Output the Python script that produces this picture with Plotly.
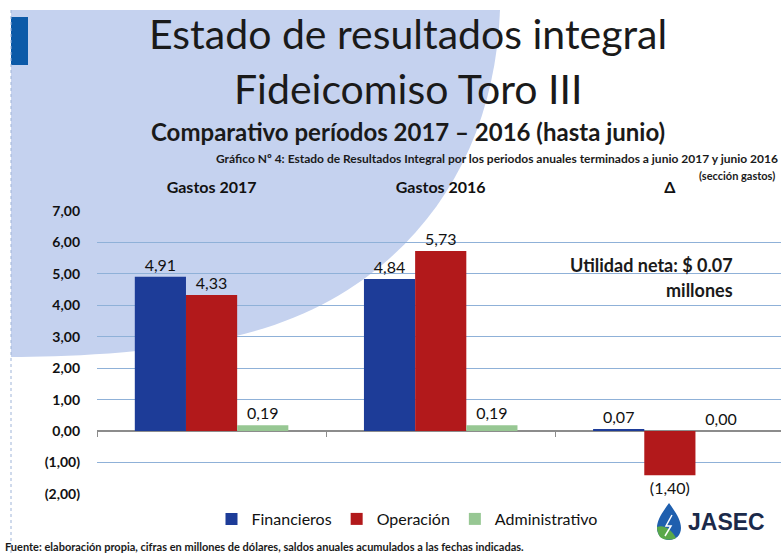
import plotly.graph_objects as go

# datos (millones de dolares)
categorias = ['Gastos 2017', 'Gastos 2016', 'Δ']
financieros = [4.91, 4.84, 0.07]
operacion = [4.33, 5.73, -1.40]
administrativo = [0.19, 0.19, 0.00]
y_ticks = [-2, -1, 0, 1, 2, 3, 4, 5, 6, 7]


def fmt(v):
    s = f"{abs(v):.2f}".replace('.', ',')
    return f"({s})" if v < 0 else s


# geometria de la figura (pixeles)
W, H = 781, 555
L, R, T, B = 97, 0, 211, 61
PW, PH = W - L - R, H - T - B


def px(x):
    return (x - L) / PW


def py(y):
    return (H - B - y) / PH


FONT = 'Lato'
BLUE = '#1d3c98'
RED = '#b2191b'
GREEN = '#97c793'

fig = go.Figure()

series = [('Financieros', financieros, BLUE),
          ('Operación', operacion, RED),
          ('Administrativo', administrativo, GREEN)]
for nombre, vals, color in series:
    fig.add_trace(go.Bar(
        x=categorias, y=vals, name=nombre, marker_color=color,
        marker_line_width=0,
        text=[fmt(v) for v in vals], textposition='outside',
        textfont=dict(family=FONT, size=16, color='#111'),
        cliponaxis=False))

# trazas vacias para los ejes auxiliares
fig.add_trace(go.Scatter(x=[None], y=[None], xaxis='x2', showlegend=False, hoverinfo='skip'))
fig.add_trace(go.Scatter(x=[None], y=[None], xaxis='x3', showlegend=False, hoverinfo='skip'))

# fondo: forma celeste y barra azul
def pth(pts, cmds):
    out = ''
    for c, group in zip(cmds, pts):
        out += c + ' ' + ' '.join(f"{px(x):.4f},{py(y):.4f}" for x, y in group) + ' '
    return out + 'Z'


fondo = pth([[(11, 10)], [(500, 10)], [(494, 175), (395, 300), (232, 337)],
             [(150, 354), (60, 357), (11, 357)]], ['M', 'L', 'C', 'C'])

shapes = [
    dict(type='path', path=fondo, xref='paper', yref='paper', layer='below',
         fillcolor='#c5d2ef', line_width=0),
    dict(type='rect', xref='paper', yref='paper', x0=px(11), x1=px(28), y0=py(17), y1=py(65),
         fillcolor='#0c5aa8', line_width=0, layer='below'),
    dict(type='line', xref='paper', yref='paper', x0=px(11), x1=px(11), y0=py(10), y1=py(555),
         line=dict(color='#9fb4d8', width=1, dash='dot'), layer='below'),
]

# logo JASEC
gota = pth([[(669, 503)], [(676, 513), (681, 520), (681, 528)],
            [(681, 535), (676, 540), (669, 540)], [(662, 540), (657, 535), (657, 528)],
            [(657, 520), (662, 513), (669, 503)]], ['M', 'C', 'C', 'C', 'C'])
hoja = pth([[(657, 527)], [(664, 524), (672, 530), (676, 538)],
            [(673, 540), (665, 541), (660, 537)], [(658, 534), (657, 530), (657, 527)]],
           ['M', 'C', 'C', 'C'])
shapes += [
    dict(type='path', path=gota, xref='paper', yref='paper', fillcolor='#1f5fae', line_width=0),
    dict(type='path', path=hoja, xref='paper', yref='paper', fillcolor='#5aa84a', line_width=0),
    dict(type='path', xref='paper', yref='paper', line=dict(color='white', width=1.5),
         path=f"M {px(672):.4f},{py(515):.4f} L {px(666):.4f},{py(526):.4f} "
              f"L {px(671):.4f},{py(526):.4f} L {px(665):.4f},{py(536):.4f}"),
]

def txt(t, x, y, size, bold=False, xanchor='center', color='#1a1a1a'):
    return dict(text=f"<b>{t}</b>" if bold else t, x=px(x), y=py(y), xref='paper', yref='paper',
                xanchor=xanchor, yanchor='middle', showarrow=False,
                font=dict(family=FONT, size=size, color=color))


annotations = [
    txt('Estado de resultados integral', 408, 33, 41),
    txt('Fideicomiso Toro III', 408, 88, 41),
    txt('Comparativo períodos 2017 – 2016 (hasta junio)', 408, 131, 24, bold=True),
    txt('Gráfico Nº 4: Estado de Resultados Integral por los periodos anuales terminados a junio 2017 y junio 2016',
        214, 158, 12, bold=True, xanchor='left'),
    txt('(sección gastos)', 697, 175, 11, bold=True, xanchor='left'),
    txt('Utilidad neta: $ 0.07', 735, 265, 18, bold=True, xanchor='right'),
    txt('millones', 735, 290, 18, bold=True, xanchor='right'),
    txt('Fuente: elaboración propia, cifras en millones de dólares, saldos anuales acumulados a las fechas indicadas.',
        3, 546, 11, bold=True, xanchor='left'),
    dict(text='<b>JASEC</b>', x=px(686), y=py(522), xref='paper', yref='paper', xanchor='left',
         yanchor='middle', showarrow=False,
         font=dict(family='Liberation Sans', size=23, color='#1b2a4a')),
]

fig.update_layout(
    width=W, height=H,
    margin=dict(l=L, r=R, t=T, b=B, autoexpand=False),
    paper_bgcolor='white', plot_bgcolor='rgba(0,0,0,0)',
    barmode='group', bargap=0.33, bargroupgap=0,
    font=dict(family=FONT, color='#111'),
    shapes=shapes, annotations=annotations,
    showlegend=True,
    legend=dict(orientation='h', x=px(407), xanchor='center', y=py(502), yanchor='top',
                font=dict(family=FONT, size=16, color='#111'), bgcolor='rgba(0,0,0,0)',
                itemwidth=30, tracegroupgap=0),
    xaxis=dict(range=[-0.5, 2.485], showticklabels=False, showgrid=False, zeroline=False,
               automargin=False),
    xaxis2=dict(overlaying='x', anchor='free', position=2 / 9, range=[-0.5, 2.485],
                tickvals=[-0.5, 0.5, 1.5, 2.5], ticks='outside', ticklen=5, tickcolor='#8c8c8c',
                showticklabels=False, showgrid=False, zeroline=False, showline=False,
                automargin=False),
    xaxis3=dict(overlaying='x', side='top', anchor='y', range=[-0.5, 2.485],
                tickvals=[0, 1, 2], ticktext=categorias, ticks='', showgrid=False, zeroline=False,
                ticklabelstandoff=14, automargin=False,
                tickfont=dict(family=FONT, size=16, color='#111', weight='bold')),
    yaxis=dict(range=[-2, 7], tickvals=y_ticks, ticktext=[fmt(v) for v in y_ticks],
               showgrid=True, gridcolor='#8fb1d8', gridwidth=1,
               zeroline=True, zerolinecolor='#8c8c8c', zerolinewidth=1.5,
               ticklabelstandoff=16, automargin=False,
               tickfont=dict(family=FONT, size=14, color='#111', weight='bold')),
)

fig.write_html("out.html", config={'displayModeBar': False},
               post_script="document.body.style.margin='0';document.body.style.overflow='hidden';")
